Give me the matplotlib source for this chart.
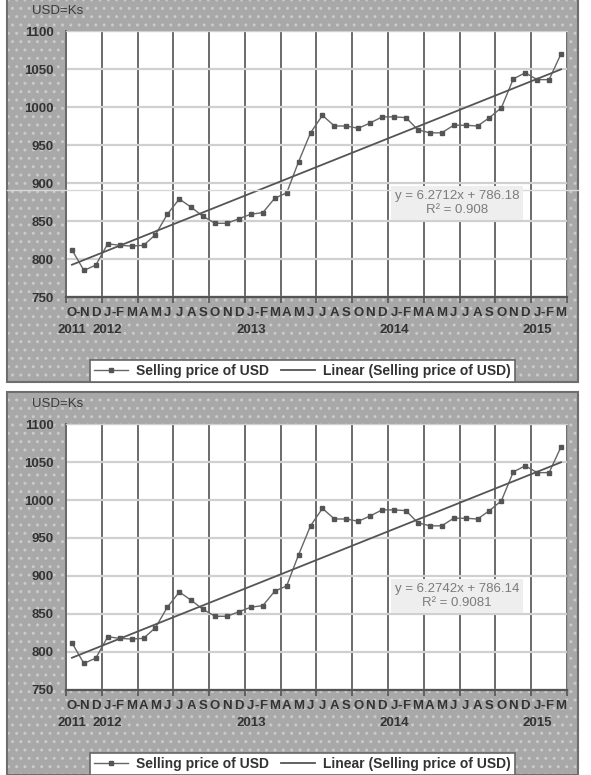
import numpy as np
import matplotlib.pyplot as plt
from matplotlib.patches import Rectangle
from matplotlib.lines import Line2D

plt.rcParams['font.family'] = ['Liberation Sans', 'DejaVu Sans']
plt.rcParams['hatch.linewidth'] = 1.0

# month letters Oct 2011 .. Mar 2015 ("-" marks the dash drawn after the letter)
months = ["O-", "N", "D",
          "J-", "F", "M", "A", "M", "J", "J", "A", "S", "O", "N", "D",
          "J-", "F", "M", "A", "M", "J", "J", "A", "S", "O", "N", "D",
          "J-", "F", "M", "A", "M", "J", "J", "A", "S", "O", "N", "D",
          "J-", "F", "M"]
years = ["2011", "2012", "2013", "2014", "2015"]
year_idx = [0, 3, 15, 27, 39]

# selling price of USD (Ks)
price = [812, 785, 792,
         820, 818, 817, 818, 832, 859, 879, 868, 856, 847, 847, 853,
         859, 861, 880, 887, 928, 966, 989, 975, 975, 972, 979, 987,
         987, 986, 970, 966, 966, 976, 976, 975, 986, 999, 1037, 1045,
         1036, 1036, 1070]

# trendline labels of the two charts
slopes = [6.2712, 6.2742]
intercepts = [786.18, 786.14]
r2 = ["0.908", "0.9081"]

W, H = 591, 775
fig = plt.figure(figsize=(W / 100, H / 100), dpi=100)
fig.patch.set_facecolor('white')

def fx(px):
    return px / W

def fy(py):
    return 1 - py / H

idx = np.arange(len(price))
xs = idx + 1
txt = '#333333'

for k, dy in enumerate([0, 393]):
    # dotted grey frame
    bg = Rectangle((fx(7), fy(382 + dy)), fx(578) - fx(7), 383 / H,
                   transform=fig.transFigure, facecolor='#a8a8a8',
                   edgecolor='#cacaca', hatch='..', lw=0, zorder=-5)
    fig.patches.append(bg)
    border = Rectangle((fx(7), fy(382 + dy)), fx(578) - fx(7), 383 / H,
                       transform=fig.transFigure, fill=False,
                       edgecolor='#6e6e6e', lw=1.5, zorder=-4)
    fig.patches.append(border)

    fig.text(fx(32), fy(11 + dy), "USD=Ks", fontsize=9.5, color='#3a3a3a',
             ha='left', va='center')

    ax = fig.add_axes([fx(66), fy(297 + dy), fx(567) - fx(66), 266 / H])
    ax.set_facecolor('white')
    ax.set_xlim(-0.5, len(price) - 0.5)
    ax.set_ylim(750, 1100)
    ax.set_yticks(range(750, 1101, 50))
    ax.set_xticks(np.arange(-0.5, len(price), 3))
    ax.set_xticklabels([])
    ax.grid(axis='y', color='#d0d0d0', lw=1.6)
    ax.grid(axis='x', color='#6a6a6a', lw=1.4)
    ax.set_axisbelow(True)
    ax.spines['left'].set_color('#6a6a6a')
    ax.spines['left'].set_linewidth(1.4)
    ax.spines['bottom'].set_color('#555555')
    ax.spines['bottom'].set_linewidth(1.6)
    ax.spines['top'].set_color('#d0d0d0')
    ax.spines['right'].set_color('#9a9a9a')
    ax.tick_params(axis='x', direction='out', length=4, width=1.2, color='#555555')
    ax.tick_params(axis='y', length=0, pad=9, labelsize=9.5, labelcolor=txt)
    for t in ax.get_yticklabels():
        t.set_fontweight('bold')

    ax.plot(idx, price, color='#666666', lw=1.0, marker='s', ms=2.6,
            mfc='#555555', mec='#555555', label='Selling price of USD')
    ax.plot(idx, slopes[k] * xs + intercepts[k], color='#555555', lw=1.3,
            label='Linear (Selling price of USD)')

    tr = ax.get_xaxis_transform()
    for i, m in enumerate(months):
        ax.text(i, -16 / 266, m.rstrip('-'), transform=tr, ha='center', va='center',
                fontsize=9.5, fontweight='bold', color=txt)
        if m.endswith('-'):
            ax.text(i + 0.5, -16 / 266, '-', transform=tr, ha='center', va='center',
                    fontsize=9.5, fontweight='bold', color=txt)
    for y, i in zip(years, year_idx):
        ax.text(i, -33 / 266, y, transform=tr, ha='center', va='center',
                fontsize=9.5, fontweight='bold', color=txt)

    fig.text(fx(457), fy(203 + dy),
             f"y = {slopes[k]}x + {intercepts[k]}\nR² = {r2[k]}",
             ha='center', va='center', fontsize=9.5, color='#7c7c7c',
             linespacing=1.2,
             bbox=dict(boxstyle='square,pad=0.3', facecolor='#eeeeee',
                       edgecolor='none'))

    leg = ax.legend(loc='center', bbox_to_anchor=(fx(302.5), fy(371 + dy)),
                    bbox_transform=fig.transFigure, ncol=2, fancybox=False,
                    edgecolor='#666666', framealpha=1, handlelength=2.4,
                    handletextpad=0.6, columnspacing=0.9, borderpad=0.3,
                    prop={'size': 10, 'weight': 'bold'})
    leg.get_frame().set_linewidth(1.2)
    for t in leg.get_texts():
        t.set_color(txt)

# faint scan line across the top chart
fig.add_artist(Line2D([fx(7), fx(578)], [fy(190), fy(190)],
                      transform=fig.transFigure, color='#d8d8d8', lw=1.0))

fig.savefig('out.png', dpi=100)
